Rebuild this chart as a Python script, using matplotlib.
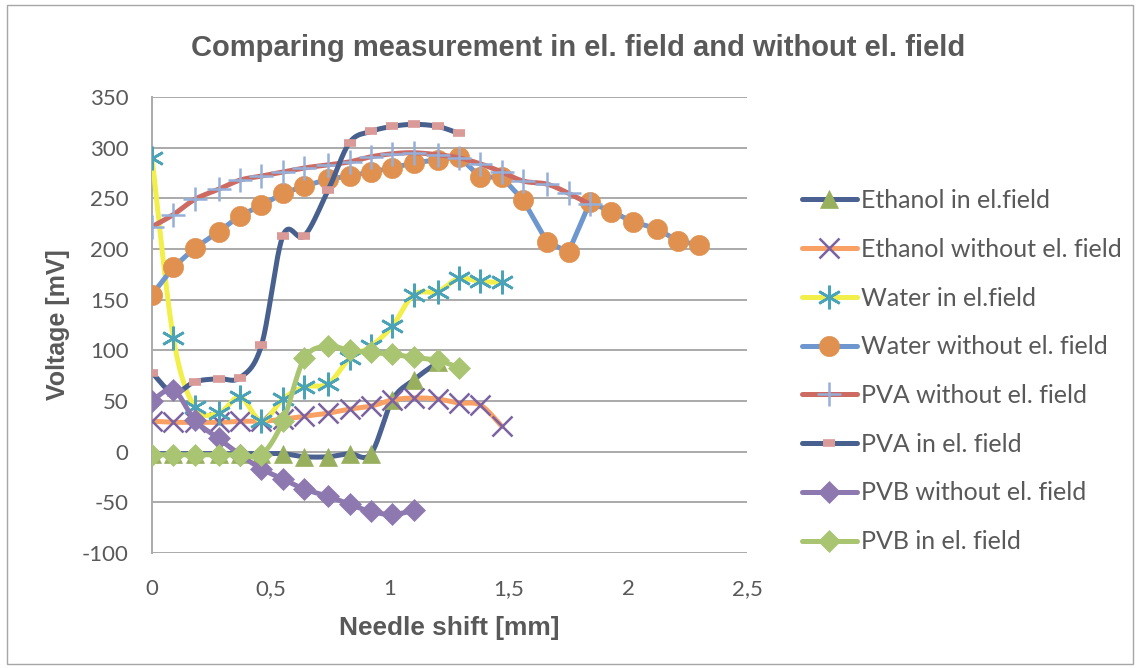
import numpy as np
import matplotlib
matplotlib.use("Agg")
import matplotlib.pyplot as plt
from matplotlib import font_manager
from matplotlib.lines import Line2D
from matplotlib.patches import Rectangle
from matplotlib.ticker import FuncFormatter, MultipleLocator

# ---------------- data ----------------
shift_mm = [0.00, 0.09, 0.18, 0.28, 0.37, 0.46, 0.55, 0.64, 0.74, 0.83,
            0.92, 1.01, 1.10, 1.20, 1.29, 1.38, 1.47, 1.56, 1.66, 1.75,
            1.84, 1.93, 2.02, 2.12, 2.21, 2.30]

ethanol_field = [-2, -2, -2, -2, -2, -2, -2, -5, -5, -2, -2, 51, 71, 88]
ethanol_nofield = [30, 29, 29, 29, 30, 30, 32, 35, 38, 42, 45, 51, 53, 52, 48, 46, 25]
water_field = [290, 112, 44, 38, 54, 30, 52, 64, 67, 92, 104, 124, 155, 158, 171, 168, 167]
water_nofield = [155, 182, 201, 217, 233, 243, 255, 262, 269, 272, 276, 280, 285, 288,
                 291, 271, 271, 248, 207, 197, 246, 237, 227, 220, 208, 204]
pva_nofield = [222, 234, 249, 259, 268, 272, 276, 280, 283, 286, 291, 294, 295, 293,
               290, 284, 276, 267, 264, 255, 244]
pva_field = [78, 58, 69, 72, 73, 105, 213, 213, 258, 305, 316, 321, 323, 321, 314]
pvb_nofield = [50, 61, 31, 13, -3, -17, -27, -37, -44, -52, -59, -62, -58]
pvb_field = [-3, -3, -3, -3, -3, -3, 30, 92, 104, 100, 98, 96, 93, 90, 83]

series_names = ["Ethanol in el.field", "Ethanol without el. field", "Water in el.field",
                "Water without el. field", "PVA without el. field", "PVA in el. field",
                "PVB without el. field", "PVB in el. field"]

# ---------------- fonts ----------------
names = {f.name for f in font_manager.fontManager.ttflist}
if "Liberation Sans Narrow" in names:
    head_family = ["Liberation Sans Narrow", "DejaVu Sans"]
    head_scale = 1.22
else:
    head_family = ["Liberation Sans", "DejaVu Sans"]
    head_scale = 1.0
body_family = ["Lato", "DejaVu Sans"] if "Lato" in names else ["DejaVu Sans"]
TXT = "#595959"

W, H = 1139, 668
fig = plt.figure(figsize=(W / 100, H / 100), dpi=100)
fig.patch.set_facecolor("white")
ax = fig.add_axes([152 / W, 1 - 553 / H, (747 - 152) / W, (553 - 97) / H])

SX, SY = 237.6, 1.013  # px per unit, for smoothing in display-like space


def smooth(xs, ys, n=24):
    xs = np.asarray(xs, float) * SX
    ys = np.asarray(ys, float) * SY
    P = np.column_stack([xs, ys])
    if len(P) < 3:
        return xs / SX, ys / SY
    ext = np.vstack([P[0], P, P[-1]])
    out = []
    for i in range(1, len(ext) - 2):
        p0, p1, p2, p3 = ext[i - 1], ext[i], ext[i + 1], ext[i + 2]
        c1 = p1 + (p2 - p0) / 6.0
        c2 = p2 - (p3 - p1) / 6.0
        t = np.linspace(0, 1, n, endpoint=(i == len(ext) - 3))[:, None]
        b = ((1 - t) ** 3) * p1 + 3 * ((1 - t) ** 2) * t * c1 + 3 * (1 - t) * t ** 2 * c2 + t ** 3 * p2
        out.append(b)
    out = np.vstack(out)
    return out[:, 0] / SX, out[:, 1] / SY


star6 = (6, 2, 0)
styles = [
    # values, line color, smooth, marker, marker color, ms, mew
    (ethanol_field, "#4A6191", True, "^", "#98B05E", 13.5, 0),
    (ethanol_nofield, "#F9A065", True, "x", "#7B62A2", 14, 1.8),
    (water_field, "#F2EE4A", True, star6, "#4BA3B8", 17, 1.9),
    (water_nofield, "#6E97CF", False, "o", "#E0914F", 14.5, 0),
    (pva_nofield, "#CD6A62", True, "+", "#95AFD9", 17, 1.8),
    (pva_field, "#48608E", True, "_", "#D99A98", 8, 5.5),
    (pvb_nofield, "#8E78B0", True, "D", "#8E78B0", 11.5, 0),
    (pvb_field, "#A9C572", True, "D", "#A9C572", 11.5, 0),
]

handles = []
for k, (vals, lc, sm, mk, mc, ms, mew) in enumerate(styles):
    xs = shift_mm[:len(vals)]
    if sm:
        lx, ly = smooth(xs, vals)
    else:
        lx, ly = xs, vals
    z = 3 + k
    ax.plot(lx, ly, color=lc, lw=3.6, solid_capstyle="round", solid_joinstyle="round", zorder=z)
    ax.plot(xs, vals, ls="none", marker=mk, ms=ms, mfc=mc, mec=mc,
            mew=(mew if mew else 0.5), zorder=z + 0.5)
    h = Line2D([0], [0], color=lc, lw=3.6, solid_capstyle="round", marker=mk,
               ms=ms, mfc=mc, mec=mc, mew=(mew if mew else 0.5))
    handles.append(h)

ax.set_xlim(0, 2.5)
ax.set_ylim(-100, 350)
ax.xaxis.set_major_locator(MultipleLocator(0.5))
ax.yaxis.set_major_locator(MultipleLocator(50))
ax.xaxis.set_major_formatter(FuncFormatter(lambda v, p: ("%g" % v).replace(".", ",")))
ax.yaxis.set_major_formatter(FuncFormatter(lambda v, p: "%d" % v))
ax.grid(axis="y", color="#AAAAAA", lw=1.4, zorder=0)
ax.set_axisbelow(True)
for s in ["top", "right", "bottom"]:
    ax.spines[s].set_visible(False)
ax.spines["left"].set_color("#AAAAAA")
ax.spines["left"].set_linewidth(1.4)
ax.tick_params(axis="both", length=0, labelsize=16, labelcolor=TXT)
ax.tick_params(axis="y", pad=17)
ax.tick_params(axis="x", pad=19)
for lab in ax.get_xticklabels() + ax.get_yticklabels():
    lab.set_family(body_family)

ax.set_xlabel("Needle shift [mm]", fontsize=18.9 * head_scale, fontweight="bold",
              color=TXT, family=head_family, labelpad=12)
ax.set_ylabel("Voltage [mV]", fontsize=18 * head_scale, fontweight="bold",
              color=TXT, family=head_family, labelpad=8)
fig.text(578 / W, 1 - 48 / H, "Comparing measurement in el. field and without el. field",
         ha="center", va="center", fontsize=21 * head_scale, fontweight="bold",
         color=TXT, family=head_family)

leg = fig.legend(handles, series_names, loc="upper left", bbox_to_anchor=(802 / W, 1 - 189 / H),
                 frameon=False, handlelength=2.2, handletextpad=0.16,
                 labelspacing=1.03, borderpad=0, borderaxespad=0,
                 prop={"family": body_family, "size": 18})
for t in leg.get_texts():
    t.set_color(TXT)

fig.add_artist(Rectangle((6.5 / W, 4.5 / H), (W - 13) / W, (H - 9) / H, transform=fig.transFigure,
                         fill=False, edgecolor="#A6A6A6", lw=1.0))

fig.savefig("out.png", dpi=100, facecolor="white")
